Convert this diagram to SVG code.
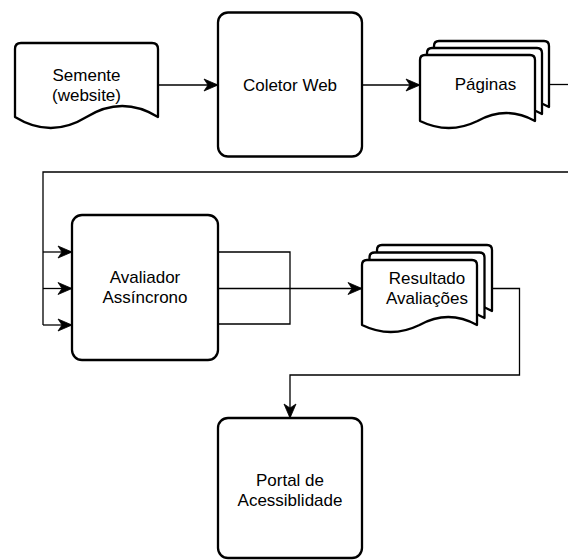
<svg xmlns="http://www.w3.org/2000/svg" width="568" height="560" viewBox="0 0 568 560">
  <style>
    .box { fill: #fff; stroke: #000; stroke-width: 2.3; stroke-linejoin: round; }
    .doc { fill: #fff; stroke: #000; stroke-width: 2.3; stroke-linejoin: round; }
    .edge { fill: none; stroke: #000; stroke-width: 1.3; }
    .lbl { font-family: "Liberation Sans", Arial, Helvetica, sans-serif; font-size: 17px; fill: #000; text-anchor: middle; }
  </style>
  <defs>
    <marker id="arrow" markerUnits="userSpaceOnUse" markerWidth="16" markerHeight="14" viewBox="-15 -7 16 14" refX="0" refY="0" orient="auto">
      <path d="M0,0 L-14,-6 L-10,0 L-14,6 Z" fill="#000" stroke="#000" stroke-width="0.8" stroke-linejoin="miter"/>
    </marker>
  </defs>

  <rect width="568" height="560" fill="#fff"/>

  <!-- connectors -->
  <g id="connectors">
    <path class="edge" d="M158,85 H218" marker-end="url(#arrow)"/>
    <path class="edge" d="M362,85 H420" marker-end="url(#arrow)"/>
    <path class="edge" d="M549,84.5 H568"/>
    <path class="edge" d="M568,172 H43 V325"/>
    <path class="edge" d="M43,252 H72" marker-end="url(#arrow)"/>
    <path class="edge" d="M43,288.5 H72" marker-end="url(#arrow)"/>
    <path class="edge" d="M43,325 H72" marker-end="url(#arrow)"/>
    <path class="edge" d="M218,252 H290 V324 H218"/>
    <path class="edge" d="M218,288.5 H362" marker-end="url(#arrow)"/>
    <path class="edge" d="M492,288.5 H519.5 V375 H290 V418" marker-end="url(#arrow)"/>
  </g>

  <!-- seed document -->
  <g id="semente">
    <path class="doc" d="M15,117 V49 Q15,43 21,43 H152 Q158,43 158,49 V117 Q122.25,95 86.5,117 Q50.75,139 15,117 Z"/>
    <text class="lbl" x="86.5" y="81">Semente</text>
    <text class="lbl" x="86.5" y="101">(website)</text>
  </g>

  <!-- crawler -->
  <g id="coletor">
    <rect class="box" x="218" y="12.5" width="144" height="144" rx="10"/>
    <text class="lbl" x="290" y="91">Coletor Web</text>
  </g>

  <!-- pages (stacked documents) -->
  <g id="paginas">
    <path class="doc" d="M434,107 V46 Q434,41 439,41 H544 Q549,41 549,46 V107 Q520.25,91 491.5,107 Q462.75,121 434,107 Z"/>
    <path class="doc" d="M427,114 V53 Q427,48 432,48 H537 Q542,48 542,53 V114 Q513.25,98 484.5,114 Q455.75,128 427,114 Z"/>
    <path class="doc" d="M420,121 V60 Q420,55 425,55 H530 Q535,55 535,60 V121 Q506.25,105 477.5,121 Q448.75,135 420,121 Z"/>
    <text class="lbl" x="485.5" y="90">Páginas</text>
  </g>

  <!-- asynchronous evaluator -->
  <g id="avaliador">
    <rect class="box" x="72" y="215" width="146" height="145" rx="10"/>
    <text class="lbl" x="145" y="283">Avaliador</text>
    <text class="lbl" x="145" y="303">Assíncrono</text>
  </g>

  <!-- evaluation results (stacked documents) -->
  <g id="resultado">
    <path class="doc" d="M377,311 V250 Q377,245 382,245 H487 Q492,245 492,250 V311 Q463.25,295 434.5,311 Q405.75,325 377,311 Z"/>
    <path class="doc" d="M369.5,318 V257.5 Q369.5,252.5 374.5,252.5 H479.5 Q484.5,252.5 484.5,257.5 V318 Q455.75,302 427,318 Q398.25,332 369.5,318 Z"/>
    <path class="doc" d="M362,325 V265 Q362,260 367,260 H472 Q477,260 477,265 V325 Q448.25,309 419.5,325 Q390.75,339 362,325 Z"/>
    <text class="lbl" x="427" y="284">Resultado</text>
    <text class="lbl" x="427" y="304">Avaliações</text>
  </g>

  <!-- accessibility portal -->
  <g id="portal">
    <rect class="box" x="218" y="418" width="144" height="140" rx="10"/>
    <text class="lbl" x="290" y="486">Portal de</text>
    <text class="lbl" x="290" y="506">Acessiblidade</text>
  </g>
</svg>
